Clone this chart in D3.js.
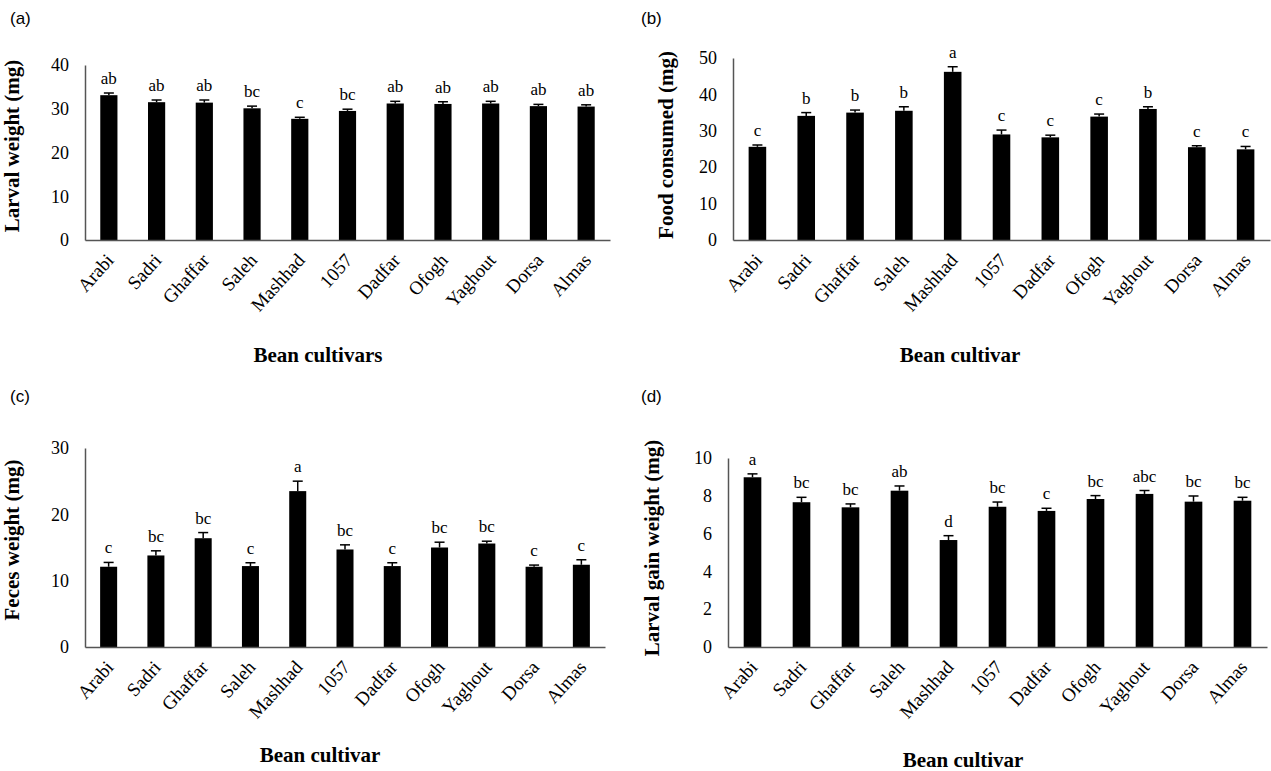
<!DOCTYPE html>
<head>
    <meta charset="utf-8">
    <script src="https://d3js.org/d3.v7.min.js"></script>
    <style>
      body { margin: 0; background: #fff; }
      text { font-family: "Liberation Serif", "Times New Roman", serif; fill: #000; }
      .panellabel { font-family: "Liberation Sans", Arial, sans-serif; font-size: 17px; }
      .ytick text { font-size: 18px; }
      .xtick text { font-size: 19px; }
      .axistitle { font-size: 21px; font-weight: bold; }
      .letter { font-size: 17px; }
    </style>
<body>
    <script>
        var cultivars = ["Arabi","Sadri","Ghaffar","Saleh","Mashhad","1057","Dadfar","Ofogh","Yaghout","Dorsa","Almas"]

        // (a) larval weight
        var larvalWeight = [33.1, 31.5, 31.4, 30.1, 27.7, 29.5, 31.2, 31.1, 31.2, 30.6, 30.5]
        var larvalWeightErr = [0.5, 0.5, 0.6, 0.5, 0.35, 0.4, 0.5, 0.5, 0.5, 0.4, 0.4]
        var larvalWeightLetters = ["ab","ab","ab","bc","c","bc","ab","ab","ab","ab","ab"]
        var larvalWeightTicks = [0, 10, 20, 30, 40]

        // (b) food consumed
        var foodConsumed = [25.6, 34.1, 35.0, 35.5, 46.2, 29.0, 28.2, 33.9, 36.0, 25.5, 24.9]
        var foodConsumedErr = [0.5, 0.9, 0.7, 1.1, 1.4, 1.2, 0.6, 0.7, 0.6, 0.4, 0.8]
        var foodConsumedLetters = ["c","b","b","b","a","c","c","c","b","c","c"]
        var foodConsumedTicks = [0, 10, 20, 30, 40, 50]

        // (c) feces weight
        var fecesWeight = [12.1, 13.8, 16.4, 12.2, 23.5, 14.7, 12.2, 15.0, 15.6, 12.1, 12.4]
        var fecesWeightErr = [0.65, 0.7, 0.85, 0.5, 1.5, 0.7, 0.5, 0.8, 0.35, 0.25, 0.75]
        var fecesWeightLetters = ["c","bc","bc","c","a","bc","c","bc","bc","c","c"]
        var fecesWeightTicks = [0, 10, 20, 30]

        // (d) larval gain weight
        var gainWeight = [8.98, 7.66, 7.39, 8.27, 5.66, 7.42, 7.2, 7.83, 8.1, 7.69, 7.74]
        var gainWeightErr = [0.18, 0.26, 0.18, 0.25, 0.23, 0.25, 0.14, 0.18, 0.18, 0.3, 0.18]
        var gainWeightLetters = ["a","bc","bc","ab","d","bc","c","bc","abc","bc","bc"]
        var gainWeightTicks = [0, 2, 4, 6, 8, 10]

        var svg = d3.select("body").append("svg")
          .attr("width", 1271)
          .attr("height", 771)

        var panels = [
          {label:"(a)", lx:10, ly:24, values:larvalWeight, err:larvalWeightErr, letters:larvalWeightLetters, ticks:larvalWeightTicks,
           x0:85, x1:610, y0:240, y1:65, ytitle:"Larval weight (mg)", ytx:19, yty:146, xtitle:"Bean cultivars", xtx:318, xty:362},
          {label:"(b)", lx:641, ly:24, values:foodConsumed, err:foodConsumedErr, letters:foodConsumedLetters, ticks:foodConsumedTicks,
           x0:733, x1:1270, y0:240, y1:58, ytitle:"Food consumed (mg)", ytx:673, yty:145, xtitle:"Bean cultivar", xtx:960, xty:362},
          {label:"(c)", lx:10, ly:402, values:fecesWeight, err:fecesWeightErr, letters:fecesWeightLetters, ticks:fecesWeightTicks,
           x0:85, x1:605, y0:647, y1:448, ytitle:"Feces weight (mg)", ytx:19, yty:540, xtitle:"Bean cultivar", xtx:320, xty:762},
          {label:"(d)", lx:641, ly:402, values:gainWeight, err:gainWeightErr, letters:gainWeightLetters, ticks:gainWeightTicks,
           x0:728, x1:1267, y0:647, y1:458, ytitle:"Larval gain weight (mg)", ytx:659, yty:548, xtitle:"Bean cultivar", xtx:963, xty:767}
        ]

        panels.forEach(function(p){
          var g = svg.append("g")
          var x = d3.scaleBand().domain(cultivars).range([p.x0, p.x1]).paddingInner(0.64).paddingOuter(0.32)
          var ymax = p.ticks[p.ticks.length-1]
          var y = d3.scaleLinear().domain([0, ymax]).range([p.y0, p.y1])

          // y axis
          var yAxis = g.append("g")
            .attr("class", "ytick")
            .attr("transform", "translate("+p.x0+",0)")
            .call(d3.axisLeft(y).tickValues(p.ticks).tickSize(0).tickPadding(16))
          yAxis.select(".domain").attr("stroke", "#555").attr("stroke-width", 1.5)

          // bars
          var data = cultivars.map(function(c, i){ return {c:c, v:p.values[i], e:p.err[i], l:p.letters[i]} })
          g.selectAll(".bar").data(data).enter().append("rect")
            .attr("class", "bar")
            .attr("x", function(d){ return x(d.c) })
            .attr("width", x.bandwidth())
            .attr("y", function(d){ return y(d.v) })
            .attr("height", function(d){ return p.y0 - y(d.v) })
            .attr("fill", "#000")

          // error bars
          var cx = function(d){ return x(d.c) + x.bandwidth()/2 }
          g.selectAll(".err").data(data).enter().append("line")
            .attr("x1", cx).attr("x2", cx)
            .attr("y1", function(d){ return y(d.v) }).attr("y2", function(d){ return y(d.v + d.e) })
            .attr("stroke", "#000").attr("stroke-width", 1.5)
          g.selectAll(".cap").data(data).enter().append("line")
            .attr("x1", function(d){ return cx(d) - 5 }).attr("x2", function(d){ return cx(d) + 5 })
            .attr("y1", function(d){ return y(d.v + d.e) }).attr("y2", function(d){ return y(d.v + d.e) })
            .attr("stroke", "#000").attr("stroke-width", 1.5)

          // letters
          g.selectAll(".letter").data(data).enter().append("text")
            .attr("class", "letter")
            .attr("x", cx)
            .attr("y", function(d){ return y(d.v + d.e) - 9 })
            .attr("text-anchor", "middle")
            .text(function(d){ return d.l })

          // x axis
          var xAxis = g.append("g")
            .attr("class", "xtick")
            .attr("transform", "translate(0,"+p.y0+")")
            .call(d3.axisBottom(x).tickSize(0).tickSizeOuter(0))
          xAxis.select(".domain").attr("stroke", "#555").attr("stroke-width", 1.5)
          xAxis.selectAll(".tick text")
            .attr("text-anchor", "end")
            .attr("dy", null)
            .attr("y", 0)
            .attr("transform", "translate(6,21) rotate(-48)")

          // titles
          g.append("text").attr("class", "axistitle")
            .attr("transform", "translate("+p.ytx+","+p.yty+") rotate(-90)")
            .attr("text-anchor", "middle")
            .text(p.ytitle)
          g.append("text").attr("class", "axistitle")
            .attr("x", p.xtx).attr("y", p.xty)
            .attr("text-anchor", "middle")
            .text(p.xtitle)
          g.append("text").attr("class", "panellabel")
            .attr("x", p.lx).attr("y", p.ly)
            .text(p.label)
        })
    </script>
</body>
